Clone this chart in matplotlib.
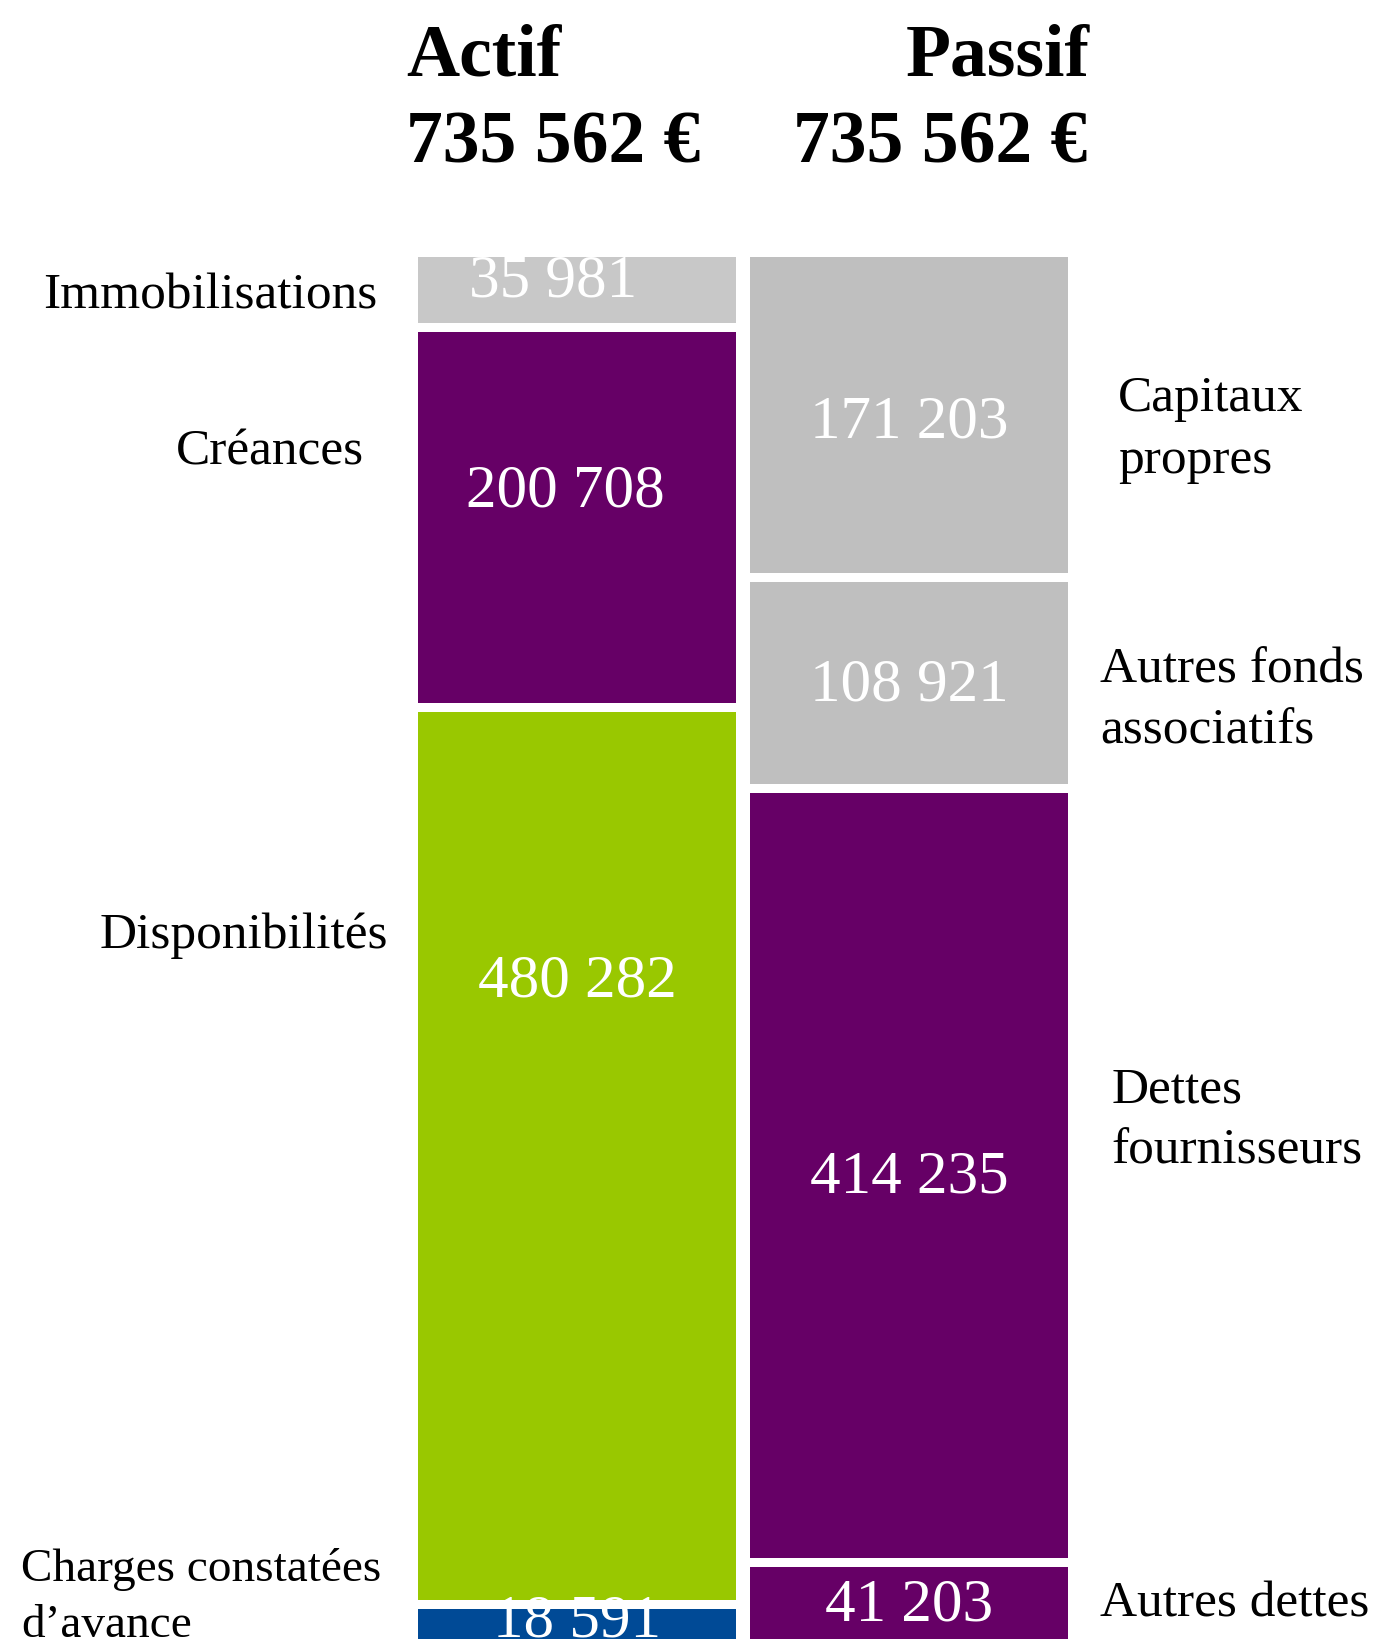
import numpy as np
import matplotlib.pyplot as plt

# bilan : actif / passif (en euros)
actif_labels = ["Immobilisations", "Créances", "Disponibilités", "Charges constatées\nd’avance"]
actif_values = np.array([35981, 200708, 480282, 18591])
passif_labels = ["Capitaux\npropres", "Autres fonds\nassociatifs", "Dettes\nfournisseurs", "Autres dettes"]
passif_values = np.array([171203, 108921, 414235, 41203])
totals = [actif_values.sum(), passif_values.sum()]
titles = ["Actif", "Passif"]

actif_colors = ["#C8C8C8", "#660066", "#99C800", "#004A96"]
passif_colors = ["#BFBFBF", "#BFBFBF", "#660066", "#660066"]

# where the value sits inside each segment (0 = top, 1 = bottom) + x shift
actif_val_pos = [0.26, 0.41, 0.295, 0.16]
actif_val_dx = [-0.072, -0.036, 0.0, 0.0]
passif_val_pos = [0.5, 0.475, 0.493, 0.41]
passif_val_dx = [0.0, 0.0, 0.0, 0.0]
# category label placement (x in bar units, y in euros)
actif_lab_x = [-0.60, -0.64, -0.57, -1.675]
actif_lab_y = [21000, 105000, 367000, 725000]
actif_lab_size = [37, 37, 37, 34]
passif_lab_x = [1.63, 1.575, 1.61, 1.575]
passif_lab_y = [93000, 239500, 467000, 728500]

gap = 4900
width = 0.958

def fmt(v):
    return f"{v:,}".replace(",", " ")

plt.rcParams['font.family'] = ['Liberation Serif', 'DejaVu Serif']

fig = plt.figure(figsize=(13.76, 16.40), dpi=100)
ax = fig.add_axes([0, 0, 1, 1])
ax.set_xlim(-1.738, 2.407)
ax.set_ylim(748000, -139600)
ax.axis('off')

def column(x, values, colors, val_pos, val_dx):
    bottoms = np.concatenate([[0], np.cumsum(values + gap)[:-1]])
    bars = ax.bar(x, values, width=width, bottom=bottoms, color=colors, align='center')
    for rect, b, v, f, dx in zip(bars, bottoms, values, val_pos, val_dx):
        t = ax.text(x + dx, b + f * v, fmt(v), color='white', fontsize=44,
                    ha='center', va='center_baseline')
        t.set_clip_path(rect)
    return bottoms

column(0, actif_values, actif_colors, actif_val_pos, actif_val_dx)
column(1, passif_values, passif_colors, passif_val_pos, passif_val_dx)

for lab, lx, ly, fs in zip(actif_labels, actif_lab_x, actif_lab_y, actif_lab_size):
    ha = 'left' if '\n' in lab else 'right'
    ax.text(lx, ly, lab, fontsize=fs, ha=ha, va='center', color='black', linespacing=1.4)
for lab, lx, ly in zip(passif_labels, passif_lab_x, passif_lab_y):
    ax.text(lx, ly, lab, fontsize=37, ha='left', va='center', color='black', linespacing=1.42)

# headers
fig.text(0.295, 0.954, titles[0], fontsize=53, fontweight='bold', ha='left', va='baseline')
fig.text(0.295, 0.901, fmt(totals[0]) + " €", fontsize=53, fontweight='bold', ha='left', va='baseline')
fig.text(0.792, 0.954, titles[1], fontsize=53, fontweight='bold', ha='right', va='baseline')
fig.text(0.790, 0.901, fmt(totals[1]) + " €", fontsize=53, fontweight='bold', ha='right', va='baseline')

fig.savefig("out.png", dpi=100)
